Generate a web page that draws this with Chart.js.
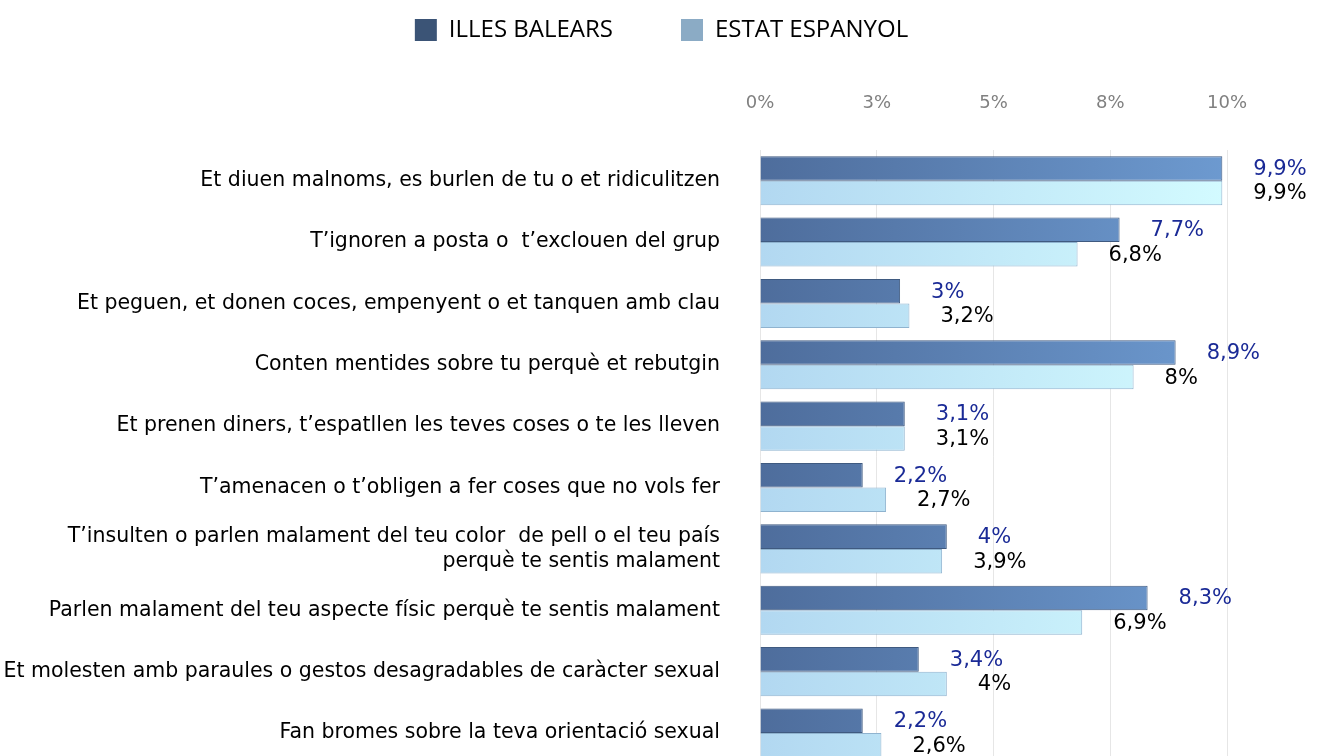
<!DOCTYPE html>
<html>
<head>
<meta charset="utf-8">
<script src="https://cdn.jsdelivr.net/npm/chart.js@4"></script>
<style>
  html, body { margin: 0; padding: 0; background: #fff; overflow: hidden; }
  #wrap { width: 1320px; height: 808px; }
</style>
</head>
<body>
<div id="wrap"><canvas id="cnv"></canvas></div>
<script>
const categories = [
  'Et diuen malnoms, es burlen de tu o et ridiculitzen',
  'T\u2019ignoren a posta o  t\u2019exclouen del grup',
  'Et peguen, et donen coces, empenyent o et tanquen amb clau',
  'Conten mentides sobre tu perquè et rebutgin',
  'Et prenen diners, t\u2019espatllen les teves coses o te les lleven',
  'T\u2019amenacen o t\u2019obligen a fer coses que no vols fer',
  ['T\u2019insulten o parlen malament del teu color  de pell o el teu país', 'perquè te sentis malament'],
  'Parlen malament del teu aspecte físic perquè te sentis malament',
  'Et molesten amb paraules o gestos desagradables de caràcter sexual',
  'Fan bromes sobre la teva orientació sexual'
];
const seriesNames = ['ILLES BALEARS', 'ESTAT ESPANYOL'];
const illesBalears = [9.9, 7.7, 3, 8.9, 3.1, 2.2, 4, 8.3, 3.4, 2.2];
const estatEspanyol = [9.9, 6.8, 3.2, 8, 3.1, 2.7, 3.9, 6.9, 4, 2.6];
const tickValues = [0, 2.5, 5, 7.5, 10];

const legendColors = ['#3b5476', '#8babc5'];
const gradStops = [['#4e6d9c', '#6d9ad0'], ['#b2d8f1', '#d3fbff']];
const edgeColors = ['#3f5a80', '#8fb3cf'];
const labelColors = ['#1a2a96', '#000000'];

function barFill(i) {
  return (c) => {
    const { ctx, chartArea } = c.chart;
    if (!chartArea) return gradStops[i][0];
    const g = ctx.createLinearGradient(chartArea.left, 0, chartArea.right, 0);
    g.addColorStop(0, gradStops[i][0]);
    g.addColorStop(1, gradStops[i][1]);
    return g;
  };
}

// value labels at the end of each bar, decimal comma
const valueLabels = {
  id: 'valueLabels',
  afterDatasetsDraw(chart) {
    const ctx = chart.ctx;
    ctx.save();
    ctx.font = '21px "DejaVu Sans"';
    ctx.textBaseline = 'middle';
    ctx.textAlign = 'left';
    chart.data.datasets.forEach((ds, i) => {
      chart.getDatasetMeta(i).data.forEach((bar, j) => {
        ctx.fillStyle = labelColors[i];
        ctx.fillText(String(ds.data[j]).replace('.', ',') + '%', bar.x + 31, bar.y + 1);
      });
    });
    ctx.restore();
  }
};

// nudge the legend so it sits where the original has it
const legendShift = {
  id: 'legendShift',
  afterLayout(chart) {
    chart.legend.left += 48;
    chart.legend.right += 48;
  }
};

const ctx = document.getElementById('cnv').getContext('2d');
new Chart(ctx, {
  type: 'bar',
  data: {
    labels: categories,
    datasets: [
      { label: seriesNames[0], data: illesBalears, backgroundColor: barFill(0), borderColor: edgeColors[0], borderWidth: 1 },
      { label: seriesNames[1], data: estatEspanyol, backgroundColor: barFill(1), borderColor: edgeColors[1], borderWidth: 1 }
    ]
  },
  options: {
    indexAxis: 'y',
    responsive: true,
    maintainAspectRatio: false,
    animation: false,
    layout: { padding: { left: 0, right: 93, top: -50, bottom: 6 } },
    datasets: { bar: { categoryPercentage: 0.8, barPercentage: 1 } },
    scales: {
      x: {
        position: 'top',
        min: 0,
        max: 10,
        afterBuildTicks: (scale) => { scale.ticks = tickValues.map(v => ({ value: v })); },
        afterFit: (scale) => { scale.height = 98; },
        ticks: {
          padding: 36,
          color: '#808080',
          font: { family: 'DejaVu Sans', size: 18 },
          callback: (v) => Math.round(v) + '%'
        },
        grid: { color: '#e6e6e6', drawTicks: false },
        border: { display: false }
      },
      y: {
        afterFit: (scale) => { scale.width = 760; },
        ticks: {
          padding: 32,
          color: '#000',
          font: { family: 'DejaVu Sans', size: 20.5 }
        },
        grid: { display: false },
        border: { display: false }
      }
    },
    plugins: {
      legend: {
        position: 'top',
        labels: {
          boxWidth: 22,
          boxHeight: 22,
          padding: 68,
          color: '#000',
          font: { family: 'Open Sans', size: 24 },
          generateLabels: (chart) => chart.data.datasets.map((ds, i) => ({
            text: ds.label,
            fillStyle: legendColors[i],
            strokeStyle: legendColors[i],
            lineWidth: 0,
            datasetIndex: i
          }))
        }
      },
      tooltip: { enabled: false }
    }
  },
  plugins: [valueLabels, legendShift]
});
</script>
</body>
</html>
